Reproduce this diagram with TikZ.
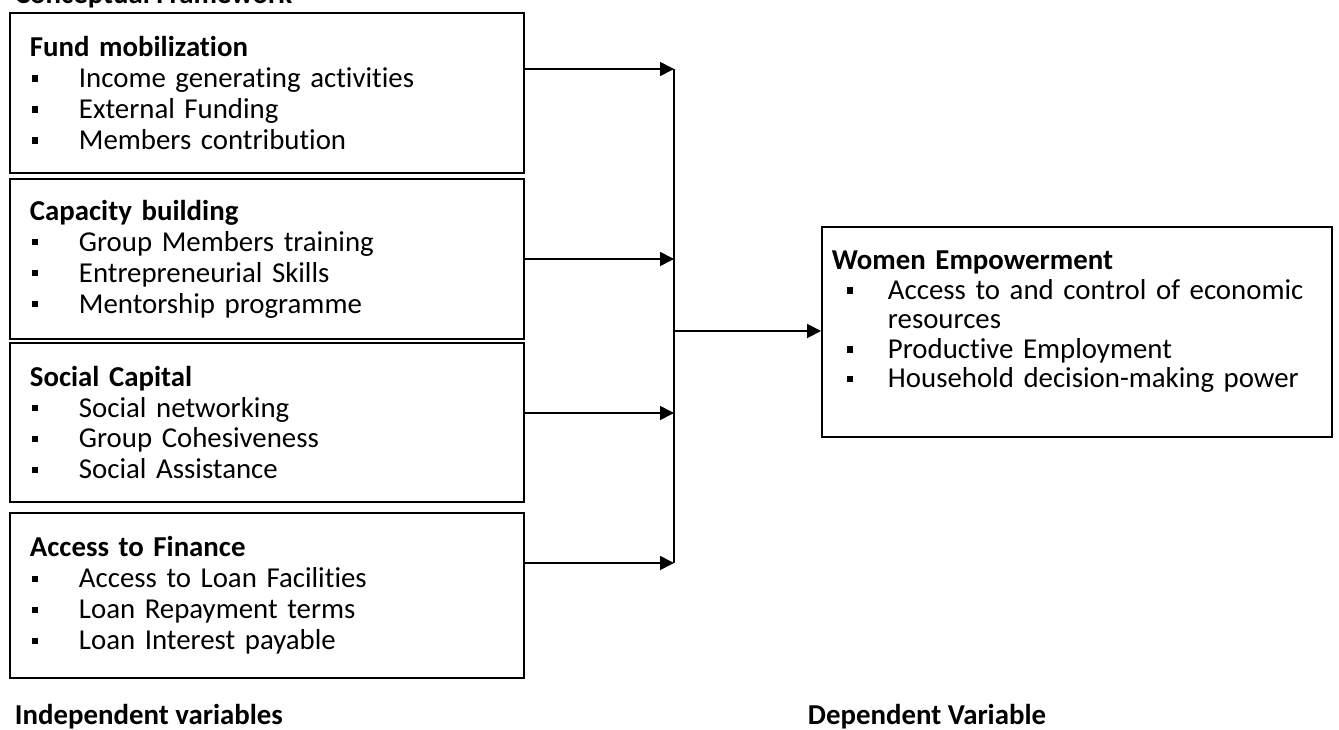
\documentclass[tikz,border=0pt]{standalone}
\usepackage{fontspec}
\setmainfont{Carlito}[Ligatures=NoCommon]
\usetikzlibrary{arrows.meta}
\newlength{\bulhang}
\newlength{\bulpos}
\newcommand{\bitem}[1]{\par\noindent\hangindent=\bulhang\hangafter=1\makebox[\bulhang][l]{\hspace{\bulpos}\rule[0.2em]{0.16cm}{0.16cm}}#1}
\begin{document}
\begin{tikzpicture}[x=0.025cm,y=-0.025cm,
	font=\fontsize{20.5pt}{22pt}\selectfont,
	iv/.style={draw,line width=1.3pt,text width=11.85cm,inner xsep=0.5cm,minimum height=#1,
		execute at begin node={\setlength{\parindent}{0pt}\setlength{\bulhang}{1.225cm}\setlength{\bulpos}{0.05cm}}},
	dv/.style={draw,line width=1.3pt,text width=12.25cm,inner xsep=0.25cm,minimum height=5.25cm,
		font=\fontsize{20.5pt}{21pt}\selectfont,
		execute at begin node={\setlength{\parindent}{0pt}\setlength{\rightskip}{0.225cm}\hyphenpenalty=10000
			\setlength{\bulhang}{1.4cm}\setlength{\bulpos}{0.375cm}}},
	link/.style={line width=1.3pt,-{Triangle[length=0.35cm,width=0.35cm]}}]
	\useasboundingbox (0,0) rectangle (1339,729);
	\node[anchor=base west,font=\fontsize{20.5pt}{22pt}\selectfont\bfseries] (head) at (10,4) {Conceptual Framework};
	% independent variables
	\node[iv=4cm] (fund) at (267,93) {\textbf{Fund mobilization}
		\bitem{Income generating activities}
		\bitem{External Funding}
		\bitem{Members contribution}};
	\node[iv=4cm] (capacity) at (267,259) {\textbf{Capacity building}
		\bitem{Group Members training}
		\bitem{Entrepreneurial Skills}
		\bitem{Mentorship programme}};
	\node[iv=3.975cm] (social) at (267,422.5) {\textbf{Social Capital}
		\bitem{Social networking}
		\bitem{Group Cohesiveness}
		\bitem{Social Assistance}};
	\node[iv=4.125cm] (finance) at (267,595.5) {\textbf{Access to Finance}
		\bitem{Access to Loan Facilities}
		\bitem{Loan Repayment terms}
		\bitem{Loan Interest payable}};
	% dependent variable
	\node[dv] (empower) at (1077,332) {\textbf{Women Empowerment}
		\bitem{Access to and control of economic resources}
		\bitem{Productive Employment}
		\bitem{Household decision-making power}\par\vspace{0.5cm}\hrule height 0pt};
	\node[anchor=base west,font=\fontsize{20.5pt}{22pt}\selectfont\bfseries] (indep) at (10,724) {Independent variables};
	\node[anchor=base west,font=\fontsize{20.5pt}{22pt}\selectfont\bfseries] (dep) at (803,724) {Dependent Variable};
	% connectors
	\coordinate (j1) at (674,69);
	\coordinate (j2) at (674,259);
	\coordinate (j3) at (674,413);
	\coordinate (j4) at (674,563);
	\coordinate (jm) at (674,331);
	\draw[line width=1.3pt] (j1) -- (j4);
	\draw[link] (fund.east |- j1) -- (j1);
	\draw[link] (capacity.east |- j2) -- (j2);
	\draw[link] (social.east |- j3) -- (j3);
	\draw[link] (finance.east |- j4) -- (j4);
	\draw[link] (jm) -- (empower.west |- jm);
\end{tikzpicture}
\end{document}
